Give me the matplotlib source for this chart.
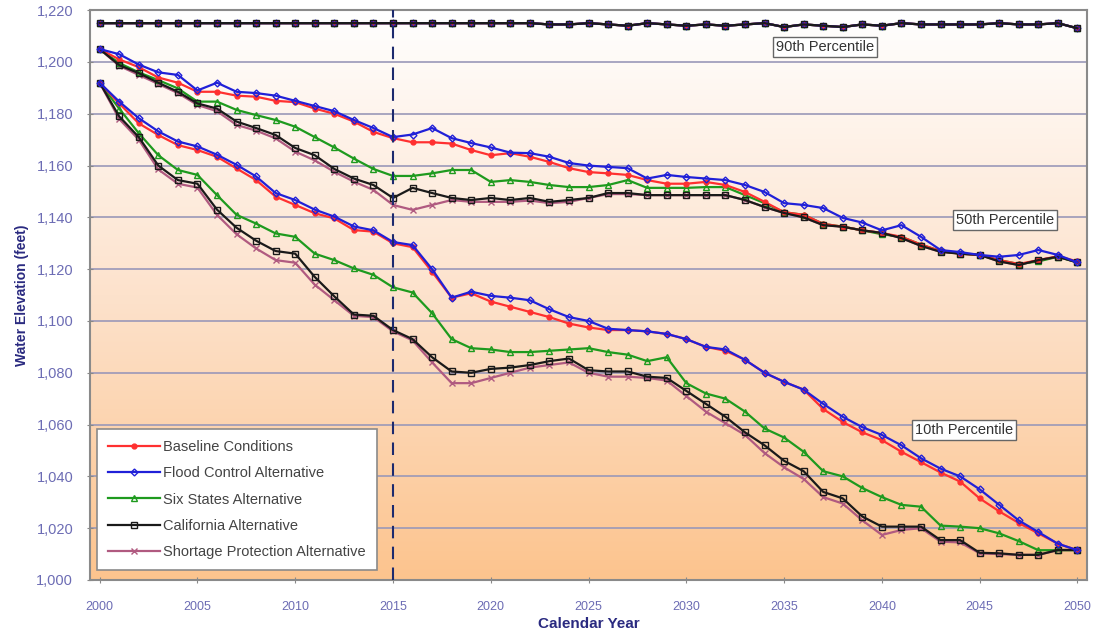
import numpy as np
import matplotlib
matplotlib.use('Agg')
import matplotlib.pyplot as plt
from matplotlib.colors import LinearSegmentedColormap

plt.rcParams['font.family'] = ['Liberation Sans', 'DejaVu Sans']

years = list(range(2000, 2051))

# 90th percentile (all alternatives nearly identical)
p90 = [1215, 1215, 1215, 1215, 1215, 1215, 1215, 1215, 1215, 1215,
       1215, 1215, 1215, 1215, 1215, 1215, 1215, 1215, 1215, 1215,
       1215, 1215, 1215, 1214.5, 1214.5, 1215, 1214.5, 1214, 1215, 1214.5,
       1214, 1214.5, 1214, 1214.5, 1215, 1213.5, 1214.5, 1214, 1213.5, 1214.5,
       1214, 1215, 1214.5, 1214.5, 1214.5, 1214.5, 1215, 1214.5, 1214.5, 1215,
       1213]

# 50th percentile
base_50 = [1205, 1201, 1198, 1194, 1192, 1188.5, 1188.5, 1187, 1186.6, 1185,
           1184.5, 1182, 1180, 1177, 1173, 1170.6, 1169, 1169, 1168.5, 1166,
           1164, 1164.8, 1163.4, 1161.4, 1159, 1157.5, 1157, 1156.4, 1154.4, 1153,
           1153, 1153.7, 1152.5, 1149.8, 1146, 1142, 1141, 1137.5, 1136.4, 1135,
           1134, 1132.5, 1129.5, 1127, 1126, 1125.5, 1123.5, 1122, 1123.5, 1125,
           1123]
flood_50 = [1205, 1203, 1199, 1196, 1195, 1189, 1192, 1188.5, 1188, 1187,
            1185, 1183, 1181, 1177.6, 1174.5, 1171, 1172, 1174.5, 1170.6, 1168.7,
            1167, 1165, 1164.8, 1163.4, 1161, 1160, 1159.5, 1159, 1155, 1156.4,
            1155.6, 1155, 1154.4, 1152.5, 1149.8, 1145.5, 1144.8, 1143.6, 1139.8, 1138,
            1135, 1137, 1132.5, 1127.4, 1126.6, 1125.5, 1124.8, 1125.5, 1127.4, 1125.5,
            1122.6]
six_50 = [1205, 1199.6, 1196, 1193, 1189.8, 1184.7, 1184.7, 1181.5, 1179.5, 1177.6,
          1175, 1171, 1167, 1162.7, 1158.7, 1156, 1156, 1157, 1158.3, 1158.3,
          1153.7, 1154.4, 1153.7, 1152.5, 1151.7, 1151.7, 1152.5, 1154.4, 1151.4, 1151.4,
          1151.4, 1151.7, 1151.7, 1148.6, 1145.5, 1142, 1141, 1137.5, 1136.4, 1135,
          1133.5, 1132.5, 1129.5, 1127, 1126, 1125.5, 1123.5, 1122, 1123, 1124.8,
          1122.6]
calif_50 = [1205, 1198.8, 1195.7, 1192, 1188.5, 1184, 1182, 1177, 1174.5, 1171.8,
            1166.8, 1164, 1158.7, 1155, 1152.5, 1147.5, 1151.4, 1149.4, 1147.5, 1146.7,
            1147.5, 1146.7, 1147.5, 1146, 1146.7, 1147.5, 1149.4, 1149.4, 1148.6, 1148.6,
            1148.6, 1148.6, 1148.6, 1146.7, 1144, 1141.7, 1140, 1137, 1136.4, 1135,
            1134, 1132, 1129, 1126.7, 1126, 1125.5, 1123, 1121.6, 1123.5, 1124.8,
            1122.6]
short_50 = [1205, 1198.5, 1195, 1191.5, 1188, 1183.4, 1181, 1175.7, 1173.5, 1170.5,
            1165.4, 1162, 1157.6, 1153.8, 1150.6, 1144.8, 1142.9, 1144.8, 1146.7, 1146,
            1146, 1146, 1146.5, 1145.5, 1146, 1147.5, 1149, 1149, 1148.6, 1148.6,
            1148.6, 1148.6, 1148.6, 1146.7, 1144, 1141.7, 1140, 1137, 1136.4, 1135,
            1134, 1132, 1129, 1126.7, 1126, 1125.5, 1123, 1121.6, 1123.5, 1124.8,
            1122.6]

# 10th percentile
base_10 = [1192, 1184, 1176.3, 1171.8, 1167.9, 1166, 1163.4, 1158.9, 1154.4, 1148,
           1144.8, 1141.6, 1139.6, 1135.1, 1134.5, 1130, 1128.5, 1119, 1109, 1110.7,
           1107.5, 1105.5, 1103.5, 1101.5, 1099, 1097.5, 1096.5, 1096.5, 1096, 1095,
           1093, 1090, 1088.5, 1085, 1080, 1076.5, 1073.5, 1066, 1061, 1057,
           1054, 1049.5, 1045.5, 1041.5, 1038, 1031.5, 1026.5, 1022, 1018, 1014,
           1011.5]
flood_10 = [1192, 1184.7, 1178.3, 1173.2, 1169.3, 1167.4, 1164.2, 1160.3, 1155.8, 1149.4,
            1146.7, 1143, 1140.3, 1136.5, 1135, 1130.5, 1129.3, 1120, 1109, 1111.3,
            1109.7, 1109, 1108, 1104.5, 1101.5, 1100, 1097, 1096.5, 1096, 1095,
            1093, 1090, 1089, 1085, 1080, 1076.5, 1073.5, 1068, 1063, 1059,
            1056, 1052, 1047, 1043, 1040, 1035, 1029, 1023, 1018.5, 1014,
            1011.5]
six_10 = [1192, 1182, 1172.5, 1164, 1158.3, 1156.4, 1148.6, 1141, 1137.6, 1133.8,
          1132.5, 1126, 1123.5, 1120.3, 1117.8, 1113, 1111, 1103, 1093, 1089.5,
          1089, 1088, 1088, 1088.5, 1089, 1089.5, 1088, 1087, 1084.5, 1086,
          1076, 1072, 1070, 1065, 1058.5, 1055, 1049.5, 1042, 1040, 1035.5,
          1032, 1029, 1028.3, 1021, 1020.6, 1020, 1018, 1015, 1011.5, 1011.5,
          1011.5]
calif_10 = [1192, 1179, 1171, 1160, 1154.4, 1153, 1143, 1136, 1131, 1127,
            1126, 1117, 1109.5, 1102.5, 1102, 1096.5, 1093, 1086, 1080.5, 1080,
            1081.5, 1082, 1083, 1084.5, 1085.5, 1081, 1080.5, 1080.5, 1078.5, 1078,
            1073, 1068, 1063, 1057, 1052, 1046, 1042, 1034, 1031.5, 1024.5,
            1020.6, 1020.6, 1020.6, 1015.4, 1015.4, 1010.5, 1010.3, 1009.7, 1009.7, 1011.6,
            1011.6]
short_10 = [1192, 1178, 1170, 1158.5, 1153, 1151.5, 1141, 1133.5, 1128, 1123.5,
            1122.5, 1114, 1108, 1102, 1101.5, 1096, 1092.5, 1084, 1076, 1076,
            1078, 1080, 1082, 1083, 1084, 1080, 1078.5, 1078.5, 1078, 1077,
            1071, 1065, 1060.5, 1056, 1049, 1043.5, 1039, 1032, 1029.5, 1023,
            1017.4, 1019.3, 1020, 1014.8, 1014.5, 1010.3, 1010, 1009.7, 1009.7, 1011.5,
            1011.5]

names = ['Baseline Conditions', 'Flood Control Alternative', 'Six States Alternative',
         'California Alternative', 'Shortage Protection Alternative']
colors = ['#ff3030', '#2020d8', '#1e9a1e', '#1a1a1a', '#b05a80']
markers = ['o', 'D', '^', 's', 'x']
layer = [3.2, 3.4, 3.1, 3.3, 3.0]   # california above shortage protection
series_50 = [base_50, flood_50, six_50, calif_50, short_50]
series_10 = [base_10, flood_10, six_10, calif_10, short_10]

fig = plt.figure(figsize=(10.96, 6.37), dpi=100)
ax = fig.add_axes([0.082, 0.0895, 0.910, 0.8945])

# background gradient white -> orange
cmap = LinearSegmentedColormap.from_list('bg', ['#fcc48e', '#fde2cc', '#ffffff'])
grad = np.linspace(0, 1, 256).reshape(-1, 1)
ax.imshow(grad, extent=[1999.5, 2050.5, 1000, 1220], origin='lower',
          aspect='auto', cmap=cmap, zorder=0)

for v in range(1020, 1220, 20):
    ax.axhline(v, color='#9a98b8', lw=1.2, zorder=1)

for i in range(5):
    c = colors[i]
    mk = dict(marker=markers[i], ms=4.5, mew=1.0, mec=c, color=c, lw=1.6,
              zorder=layer[i])
    if markers[i] in ('s', '^', 'D'):
        mk['mfc'] = 'none'
    if markers[i] in ('D', 'o'):
        mk['ms'] = 3.5
    ax.plot(years, series_50[i], label=names[i], **mk)
    ax.plot(years, series_10[i], **mk)
    # 90th percentile: California alternative ends up on top
    mk['zorder'] = 3.5 if i == 3 else layer[i]
    ax.plot(years, p90, **mk)

ax.axvline(2015, color='#1c2a6e', lw=1.5, ls=(0, (6, 4)), zorder=6)

box = dict(boxstyle='square,pad=0.22', fc='white', ec='#666666', lw=1)
tstyle = dict(fontsize=10.5, color='#333333', ha='center', va='center',
              bbox=box, zorder=7)
ax.text(2037.1, 1205.8, '90th Percentile', **tstyle)
ax.text(2046.3, 1139, '50th Percentile', **tstyle)
ax.text(2044.2, 1058, '10th Percentile', **tstyle)

ax.set_xlim(1999.5, 2050.5)
ax.set_ylim(1000, 1220)
ax.set_xticks(range(2000, 2051, 5))
ax.set_yticks(range(1000, 1221, 20))
ax.set_yticklabels(['{:,}'.format(v) for v in range(1000, 1221, 20)])
ax.tick_params(axis='both', colors='#888888', labelcolor='#6c6cb4',
               length=4, direction='inout')
ax.tick_params(axis='x', labelsize=9, pad=13)
ax.tick_params(axis='y', labelsize=10.5, pad=10)
for s in ax.spines.values():
    s.set_color('#8a8a8a')
    s.set_linewidth(1.5)

ax.set_xlabel('Calendar Year', fontsize=11, fontweight='bold', color='#2a2a80',
              labelpad=3)
ax.set_ylabel('Water Elevation (feet)', fontsize=10, fontweight='bold',
              color='#2a2a80', labelpad=5)

leg = ax.legend(loc='lower left', bbox_to_anchor=(0.004, 0.012), fontsize=10.5,
                frameon=True, fancybox=False, framealpha=1, borderpad=0.75,
                labelspacing=0.85, handlelength=3.6, handletextpad=0.2,
                borderaxespad=0.2)
leg.get_frame().set_edgecolor('#8a8a8a')
leg.get_frame().set_linewidth(1.2)
leg.set_zorder(8)
for t in leg.get_texts():
    t.set_color('#444444')

plt.savefig('out.png', dpi=100)
